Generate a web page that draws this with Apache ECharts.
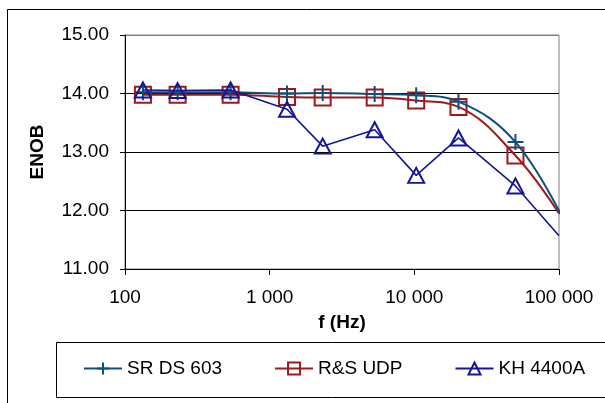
<!DOCTYPE html>
<html>
<head>
<meta charset="utf-8">
<script src="https://cdn.jsdelivr.net/npm/echarts@6/dist/echarts.min.js"></script>
<style>html,body{margin:0;padding:0;background:#fff;}#c{width:605px;height:403px;}</style>
</head>
<body>
<div id="c"></div>
<script>
// Data
var freqs = [133, 231, 537, 1318, 2325, 5320, 10300, 20200, 50000];
var srDs603 = [14.02, 14.02, 14.02, 14.00, 14.01, 13.99, 13.97, 13.86, 13.17];
var rsUdp   = [13.98, 13.98, 13.98, 13.94, 13.93, 13.93, 13.88, 13.77, 12.94];
var kh4400a = [14.06, 14.05, 14.06, 13.73, 13.10, 13.38, 12.60, 13.24, 12.42];
// Curve end points (no marker)
var srTail = [113600, 11.72];
var rsTail = [100000, 11.95];
var khTail = [100000, 11.57];
var seriesNames = ['SR DS 603', 'R&S UDP', 'KH 4400A'];
var yTicks = [11, 12, 13, 14, 15];
var xTicks = [100, 1000, 10000, 100000];

function build(vals, tail) {
  var d = freqs.map(function (f, i) { return [f, vals[i]]; });
  d.push({ value: tail, symbol: 'none' });
  return d;
}
var FONT = 'Liberation Sans';
var cSR = '#0d4f7e', cRS = '#9e1a1a', cKH = '#15159a';
var plus = 'path://M8,0 L8,16 M0,8 L16,8';

var chart = echarts.init(document.getElementById('c'), null, { renderer: 'canvas' });
chart.setOption({
  animation: false,
  backgroundColor: '#fff',
  graphic: [
    { type: 'rect', shape: { x: 7.5, y: 9.5, width: 700, height: 500 }, style: { fill: 'none', stroke: '#000', lineWidth: 1 }, z: -10 },
    { type: 'rect', shape: { x: 56.5, y: 342.5, width: 600, height: 55 }, style: { fill: 'none', stroke: '#000', lineWidth: 1 }, z: -10 }
  ],
  grid: { left: 125, right: 46, top: 35, bottom: 134, show: true, borderColor: '#808080', borderWidth: 1, backgroundColor: 'transparent' },
  legend: {
    data: seriesNames,
    left: 83, top: 359, padding: 0,
    itemWidth: 38, itemHeight: 15, itemGap: 52,
    textStyle: { fontFamily: FONT, fontSize: 19, color: '#000' }
  },
  xAxis: {
    type: 'log', logBase: 10, min: xTicks[0], max: xTicks[xTicks.length - 1],
    name: 'f (Hz)', nameLocation: 'middle', nameGap: 44,
    nameTextStyle: { fontFamily: FONT, fontSize: 19, fontWeight: 'bold', color: '#000' },
    axisLine: { show: true, lineStyle: { color: '#000', width: 1 } },
    axisTick: { show: true, length: 6, inside: false, lineStyle: { color: '#000' } },
    minorTick: { show: false },
    splitLine: { show: false },
    axisLabel: {
      margin: 19, fontFamily: FONT, fontSize: 19, color: '#000',
      formatter: function (v) { return String(Math.round(v)).replace(/\B(?=(\d{3})+(?!\d))/g, ' '); }
    }
  },
  yAxis: {
    type: 'value', min: yTicks[0], max: yTicks[yTicks.length - 1], interval: 1,
    name: 'ENOB', nameLocation: 'middle', nameGap: 78, nameRotate: 90,
    nameTextStyle: { fontFamily: FONT, fontSize: 19, fontWeight: 'bold', color: '#000' },
    axisLine: { show: true, lineStyle: { color: '#000', width: 1 } },
    axisTick: { show: true, length: 5, inside: false, lineStyle: { color: '#000' } },
    splitLine: { show: true, lineStyle: { color: ['#404040', '#000', '#000', '#000', '#808080'], width: 1 } },
    axisLabel: {
      margin: 16, fontFamily: FONT, fontSize: 19, color: '#000',
      formatter: function (v) { return v.toFixed(2); }
    }
  },
  series: [
    {
      name: seriesNames[0], type: 'line', smooth: 0.4, clip: false,
      data: build(srDs603, srTail),
      symbol: plus, symbolSize: 16,
      lineStyle: { color: cSR, width: 2 },
      itemStyle: { color: 'rgba(0,0,0,0)', borderColor: cSR, borderWidth: 2 },
      z: 3
    },
    {
      name: seriesNames[1], type: 'line', smooth: 0.4,
      data: build(rsUdp, rsTail),
      symbol: 'rect', symbolSize: 16,
      lineStyle: { color: cRS, width: 2 },
      itemStyle: { color: 'rgba(0,0,0,0)', borderColor: cRS, borderWidth: 2 },
      z: 2
    },
    {
      name: seriesNames[2], type: 'line', smooth: false,
      data: build(kh4400a, khTail),
      symbol: 'triangle', symbolSize: [16, 15],
      lineStyle: { color: cKH, width: 1.6 },
      itemStyle: { color: 'rgba(0,0,0,0)', borderColor: cKH, borderWidth: 2 },
      z: 4
    }
  ]
});
</script>
</body>
</html>
